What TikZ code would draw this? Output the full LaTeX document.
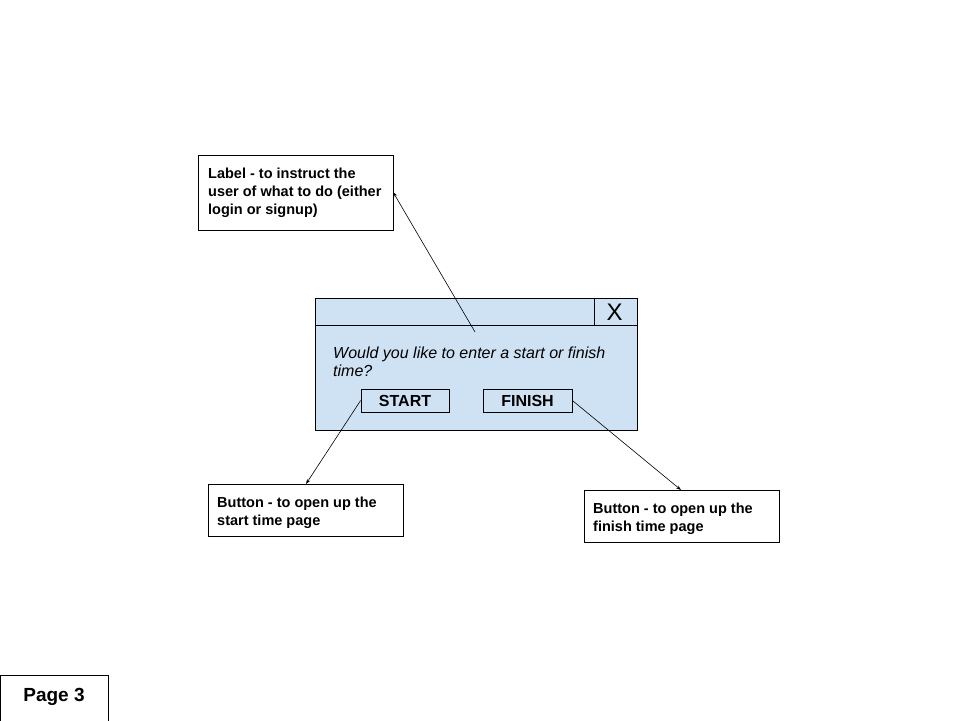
\documentclass[tikz,border=0pt]{standalone}
\usepackage{fontspec}
\setmainfont{Liberation Sans}
\usetikzlibrary{arrows.meta}
\definecolor{dlgblue}{HTML}{CFE2F3}
\begin{document}
\begin{tikzpicture}[x=1pt,y=-1pt,
  note/.style={draw=black,line width=0.8pt,fill=white},
  notetext/.style={anchor=west,inner sep=0pt,align=left,font=\bfseries\fontsize{14.5}{18}\selectfont},
  btn/.style={draw=black,line width=0.8pt,fill=dlgblue,font=\bfseries\fontsize{16}{16}\selectfont},
  conn/.style={line width=0.6pt,-{Stealth[length=5pt,width=3.5pt]}}]
\useasboundingbox (0,0) rectangle (960,720);
% label box
\draw[note] (198,155) rectangle (393,230);
\node[notetext] (labeltxt) at (208,192.5) {Label - to instruct the\\user of what to do (either\\login or signup)};
\coordinate (labelpt) at (393,192);
% dialog
\draw[line width=0.8pt,fill=dlgblue] (315,298) rectangle (637,430);
\draw[line width=0.8pt] (315,325) -- (594,325);
\draw[line width=0.8pt] (594,298) rectangle (637,325);
\node[font=\fontsize{24}{24}\selectfont,inner sep=0pt] (xbtn) at (614.5,312.5) {X};
\node[anchor=west,inner sep=0pt,align=left,font=\itshape\fontsize{16}{18}\selectfont] (q) at (333,361.5) {Would you like to enter a start or finish\\time?};
\node[btn,minimum width=88pt,minimum height=23pt,inner sep=0pt] (start) at (405,400.5) {START};
\node[btn,minimum width=89pt,minimum height=23pt,inner sep=0pt] (finish) at (527.5,400.5) {FINISH};
\coordinate (titlept) at (475,332);
% button notes
\draw[note] (208,484) rectangle (403,536);
\node[notetext] (b1) at (217,513) {Button - to open up the\\start time page};
\coordinate (b1pt) at (306,484);
\draw[note] (584,490) rectangle (779,542);
\node[notetext] (b2) at (593,519) {Button - to open up the\\finish time page};
\coordinate (b2pt) at (681,490);
% page label
\draw[note] (0,675) rectangle (108,722);
\node[font=\bfseries\fontsize{19}{19}\selectfont] (page) at (54,697) {Page 3};
% connectors
\draw[conn] (titlept) -- (labelpt);
\draw[conn] (start.west) -- (b1pt);
\draw[conn] (finish.east) -- (b2pt);
\end{tikzpicture}
\end{document}
